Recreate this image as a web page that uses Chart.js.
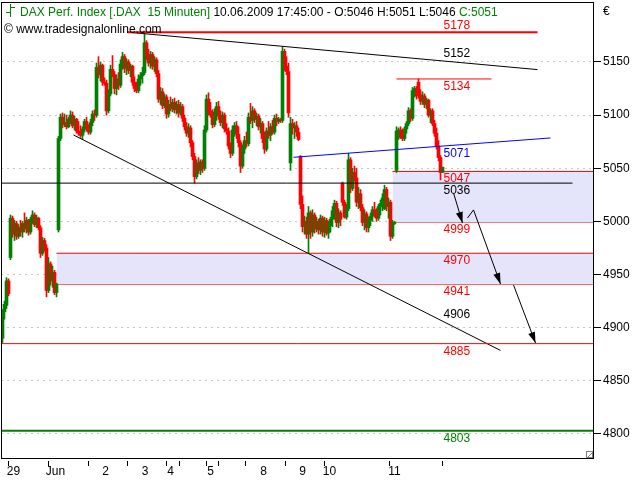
<!DOCTYPE html>
<html><head><meta charset="utf-8">
<script src="https://cdn.jsdelivr.net/npm/chart.js@4.4.1/dist/chart.umd.min.js"></script>
<style>html,body{margin:0;padding:0;background:#fff;}canvas{display:block;}</style>
</head><body>
<canvas id="c" width="640" height="480"></canvas>
<script>
// ---- 15-minute candles (bar index = time slot) ----
const open = [
4890,4915,4921,4944,4966,5003,4988,4998,4986,4994,
4990,4998,4993,5001,4990,5002,5006,4997,5003,4994,
4970,4982,4975,4935,4960,4944,4952,4933,4992,5078,
5098,5091,5093,5089,5096,5100,5090,5096,5085,5083,
5081,5087,5094,5087,5084,5093,5101,5100,5145,5138,
5147,5131,5130,5104,5120,5143,5138,5125,5134,5128,
5148,5155,5144,5150,5142,5146,5131,5125,5123,5134,
5137,5140,5168,5156,5149,5157,5146,5152,5139,5115,
5122,5109,5117,5101,5110,5106,5112,5105,5110,5102,
5108,5097,5089,5083,5088,5074,5061,5042,5055,5048,
5056,5050,5086,5115,5104,5100,5091,5103,5108,5099,
5093,5100,5087,5085,5071,5064,5086,5090,5082,5074,
5052,5068,5076,5073,5098,5095,5104,5096,5099,5089,
5092,5078,5068,5085,5081,5089,5084,5097,5094,5096,
5095,5160,5146,5141,5055,5092,5088,5090,5084,5061,
5016,4995,5000,4988,5008,4990,5006,4993,5000,4992,
5003,4990,5001,4989,4996,5002,5010,5017,4999,5008,
5036,5018,5004,5012,5058,5031,5046,5041,5018,5026,
5013,4999,5007,4994,5001,5005,5011,5008,5003,5014,
5017,5012,5030,5014,5018,4986,4998,5048,5079,5086,
5080,5078,5087,5092,5104,5097,5123,5125,5131,5119,
5113,5118,5110,5114,5100,5104,5092,5083,5071,5060,
5046];
const high = [
4917,4925,4947,4946,5006,5005,5001,5000,4997,5001,
5000,5008,5004,5002,5004,5010,5008,5006,5004,4996,
4985,4984,4978,4966,4962,4958,4954,4942,5080,5101,
5102,5101,5100,5098,5104,5103,5099,5097,5094,5090,
5089,5096,5098,5091,5096,5104,5105,5149,5155,5150,
5148,5135,5133,5124,5147,5156,5141,5138,5140,5152,
5159,5157,5153,5152,5148,5147,5136,5131,5138,5140,
5145,5178,5170,5162,5160,5159,5155,5154,5142,5126,
5125,5120,5119,5114,5117,5115,5116,5113,5114,5112,
5110,5100,5093,5092,5090,5076,5064,5058,5060,5058,
5058,5090,5119,5121,5112,5105,5106,5112,5113,5104,
5103,5102,5092,5088,5074,5090,5093,5094,5089,5076,
5072,5080,5084,5102,5111,5108,5106,5102,5101,5097,
5094,5084,5088,5094,5092,5095,5100,5101,5098,5097,
5164,5162,5155,5149,5098,5096,5093,5094,5088,5062,
5024,5005,5004,5014,5010,5011,5008,5004,5002,5006,
5005,5004,5003,5000,5004,5014,5020,5019,5012,5010,
5037,5020,5016,5064,5060,5050,5052,5050,5032,5030,
5016,5011,5009,5004,5008,5014,5018,5012,5016,5020,
5026,5034,5032,5022,5020,5001,5000,5089,5088,5089,
5087,5089,5094,5107,5106,5126,5127,5127,5134,5124,
5122,5120,5116,5115,5106,5106,5095,5088,5076,5062,
5051];
const low = [
4886,4908,4918,4930,4964,4985,4982,4983,4984,4986,
4985,4990,4989,4987,4988,4998,4995,4994,4992,4966,
4968,4972,4929,4933,4940,4938,4931,4929,4990,5076,
5088,5089,5087,5088,5092,5088,5086,5083,5081,5079,
5077,5084,5085,5082,5082,5090,5095,5098,5135,5132,
5128,5128,5100,5102,5118,5136,5120,5119,5124,5126,
5143,5140,5138,5139,5136,5128,5122,5121,5121,5128,
5130,5138,5152,5146,5144,5143,5141,5136,5112,5110,
5106,5107,5097,5098,5104,5103,5102,5101,5098,5100,
5094,5086,5080,5079,5070,5058,5036,5040,5045,5044,
5046,5048,5084,5100,5098,5088,5089,5095,5096,5090,
5088,5084,5082,5068,5060,5062,5080,5078,5070,5046,
5050,5064,5070,5071,5092,5088,5093,5090,5086,5083,
5074,5064,5066,5078,5076,5082,5082,5090,5092,5093,
5093,5142,5138,5098,5048,5082,5078,5080,5076,5012,
4990,4988,4984,4970,4984,4986,4989,4990,4988,4988,
4986,4985,4987,4984,4990,4995,5002,4995,4994,4996,
5015,5003,5002,5010,5027,5029,5038,5014,5012,5010,
4996,4992,4990,4990,4996,5000,5004,5000,5001,5006,
5010,5011,5010,5003,4982,4984,4997,5046,5077,5078,
5076,5076,5083,5090,5094,5095,5117,5115,5116,5110,
5110,5107,5106,5098,5093,5090,5080,5068,5057,5039,
5046];
const close = [
4915,4922,4944,4932,5003,4988,4998,4986,4994,4990,
4998,4993,5001,4990,5002,5006,4997,5003,4994,4970,
4982,4975,4935,4960,4944,4952,4933,4941,5078,5098,
5091,5093,5089,5096,5100,5090,5096,5085,5083,5081,
5087,5094,5087,5084,5093,5101,5100,5145,5138,5147,
5131,5130,5104,5120,5143,5138,5125,5134,5128,5148,
5155,5144,5150,5142,5146,5131,5125,5123,5134,5137,
5140,5168,5156,5149,5157,5146,5152,5139,5115,5122,
5109,5117,5101,5110,5106,5112,5105,5110,5102,5108,
5097,5089,5083,5088,5074,5061,5042,5055,5048,5056,
5050,5086,5115,5104,5100,5091,5103,5108,5099,5093,
5100,5087,5085,5071,5064,5086,5090,5082,5074,5052,
5068,5076,5073,5098,5095,5104,5096,5099,5089,5092,
5078,5068,5085,5081,5089,5084,5097,5094,5096,5095,
5160,5146,5141,5102,5092,5088,5090,5084,5077,5016,
4995,5000,4988,5008,4990,5006,4993,5000,4992,5003,
4990,5001,4989,4996,5002,5010,5017,4999,5008,5002,
5018,5004,5012,5058,5031,5046,5041,5018,5026,5013,
4999,5007,4994,5001,5005,5011,5008,5003,5014,5017,
5022,5030,5014,5018,4986,4998,4999,5085,5086,5080,
5078,5087,5092,5104,5097,5123,5125,5118,5119,5113,
5118,5110,5114,5100,5104,5092,5083,5071,5060,5046,
5051];

// ---- axis ticks (in bar-index units) ----
const dayTickPos = [2.9, 22.6, 42.6, 62.25, 81.75, 88.1, 101.75, 107.6, 121.4, 141.1, 160.6, 193.25, 219.6];
const dayLabelPos = [5.5, 26.5, 51.5, 71.25, 84.0, 104.0, 130.5, 150.0, 163.5, 196.0];
const dayLabels = ['29', 'Jun', '2', '3', '4', '5', '8', '9', '10', '11'];
const yTicks = [4800, 4850, 4900, 4950, 5000, 5050, 5100, 5150];

// ---- drawn analysis lines: [barIndex, price] ----
const resistance5178 = [[62.5, 5178], [267.5, 5178]];
const upperTrend = [[62.5, 5178], [267.5, 5142.8]];
const level5134 = [[197, 5134], [244.5, 5134]];
const blueTrend = [[145.5, 5060.3], [274, 5078.5]];
const level5036 = [[-1, 5036], [285, 5036]];
const level4885 = [[-1, 4885], [300, 4885]];
const level4803 = [[-1, 4803], [300, 4803]];
const lowerTrend = [[35.5, 5081.3], [249, 4878.6]];
const gapBoxUpperX = [195, 300];
const gapBoxUpperY = [5047, 4999];
const gapBoxLowerX = [27, 300];
const gapBoxLowerY = [4970, 4941];
const arrows = [
  [[225.5, 5026.8], [230, 4998.5]],
  [[232.5, 5003.2], [235.5, 5010.8], [249, 4941.1]],
  [[255.5, 4940.2], [266.5, 4885.6]]
];

// ---- level labels ----
const levelValues = [5178, 5152, 5134, 5071, 5047, 5036, 4999, 4970, 4941, 4906, 4885, 4803];
const levelColors = ['#ff0000', '#000000', '#ff0000', '#0000ff', '#ff0000', '#000000', '#ff0000', '#ff0000', '#ff0000', '#000000', '#ff0000', '#008000'];
const levelSide = ['above', 'above', 'below', 'below', 'below', 'below', 'below', 'below', 'below', 'above', 'below', 'below'];
const levelLabelX = 220.5;

const FONT = '"Liberation Sans", Arial, sans-serif';
const UP = '#008000', DOWN = '#ff0000', RED = '#ff0000', LAV = 'rgb(228,228,250)';

const idx = close.map((_, i) => i);
const candleColors = idx.map(i => close[i] >= open[i] ? UP : DOWN);
const pts = a => a.map(p => ({x: p[0], y: p[1]}));
function lineDs(points, color, width, extra) {
  return Object.assign({type: 'line', data: pts(points), borderColor: color, borderWidth: width,
    pointRadius: 0, fill: false, tension: 0, order: 0}, extra || {});
}

const datasets = [
  lineDs([[gapBoxUpperX[0], gapBoxUpperY[0]], [gapBoxUpperX[1], gapBoxUpperY[0]]], RED, 1, {fill: '+1', backgroundColor: LAV, order: 3}),
  lineDs([[gapBoxUpperX[0], gapBoxUpperY[1]], [gapBoxUpperX[1], gapBoxUpperY[1]]], RED, 1, {order: 3}),
  lineDs([[gapBoxLowerX[0], gapBoxLowerY[0]], [gapBoxLowerX[1], gapBoxLowerY[0]]], RED, 1, {fill: '+1', backgroundColor: LAV, order: 3}),
  lineDs([[gapBoxLowerX[0], gapBoxLowerY[1]], [gapBoxLowerX[1], gapBoxLowerY[1]]], RED, 1, {order: 3}),
  {type: 'bar', data: idx.map(i => ({x: i, y: [low[i], high[i]]})), backgroundColor: candleColors,
   barThickness: 1, grouped: false, order: 1, borderWidth: 0},
  {type: 'bar', data: idx.map(i => ({x: i, y: [open[i], close[i]]})), backgroundColor: candleColors,
   barThickness: 3, grouped: false, order: 1, borderWidth: 0, minBarLength: 1},
  lineDs(resistance5178, RED, 2),
  lineDs(upperTrend, '#000', 1),
  lineDs(level5134, RED, 1),
  lineDs(blueTrend, '#0000ff', 1),
  lineDs(level5036, '#000', 1),
  lineDs(level4885, RED, 1),
  lineDs(level4803, '#008000', 2),
  lineDs(lowerTrend, '#000', 1),
  ...arrows.map(a => lineDs(a, '#000', 1))
];

const overlay = {
  id: 'overlay',
  afterDatasetsDraw(chart) {
    const {ctx, scales: {x, y}} = chart;
    ctx.save();
    ctx.fillStyle = '#000';
    arrows.forEach(a => {
      const p1 = a[a.length - 2], p2 = a[a.length - 1];
      const x1 = x.getPixelForValue(p1[0]), y1 = y.getPixelForValue(p1[1]);
      const x2 = x.getPixelForValue(p2[0]), y2 = y.getPixelForValue(p2[1]);
      const ang = Math.atan2(y2 - y1, x2 - x1), L = 11, W = 3.5;
      const bx = x2 - L * Math.cos(ang), by = y2 - L * Math.sin(ang);
      ctx.beginPath();
      ctx.moveTo(x2, y2);
      ctx.lineTo(bx + W * Math.sin(ang), by - W * Math.cos(ang));
      ctx.lineTo(bx - W * Math.sin(ang), by + W * Math.cos(ang));
      ctx.closePath();
      ctx.fill();
    });
    ctx.font = '12px ' + FONT;
    ctx.textAlign = 'left';
    ctx.textBaseline = 'alphabetic';
    levelValues.forEach((v, i) => {
      ctx.fillStyle = levelColors[i];
      const py = y.getPixelForValue(v) + (levelSide[i] === 'above' ? -3 : 11);
      ctx.fillText(String(v), x.getPixelForValue(levelLabelX), py);
    });
    ctx.restore();
  },
  afterDraw(chart) {
    const {ctx, scales: {x}, chartArea: ca} = chart;
    ctx.save();
    ctx.strokeStyle = '#000';
    ctx.lineWidth = 1;
    ctx.strokeRect(ca.left + 0.5, ca.top + 0.5, ca.right - ca.left - 1, ca.bottom - ca.top);
    ctx.beginPath();
    dayTickPos.forEach(v => {
      const px = Math.round(x.getPixelForValue(v)) + 0.5;
      ctx.moveTo(px, ca.bottom + 3);
      ctx.lineTo(px, ca.bottom + 8);
    });
    ctx.stroke();
    ctx.strokeStyle = '#808080';
    ctx.strokeRect(ca.right - 7.5, ca.bottom - 6.5, 6, 6);
    ctx.beginPath(); ctx.moveTo(ca.right - 6, ca.bottom - 1); ctx.lineTo(ca.right - 2, ca.bottom - 5); ctx.stroke();
    ctx.font = '12px ' + FONT;
    ctx.textAlign = 'left';
    ctx.textBaseline = 'alphabetic';
    ctx.strokeStyle = '#008000';
    ctx.beginPath();
    ctx.moveTo(10.5, 4); ctx.lineTo(10.5, 17);
    ctx.moveTo(6, 12.5); ctx.lineTo(10.5, 12.5);
    ctx.moveTo(10.5, 7.5); ctx.lineTo(15, 7.5);
    ctx.stroke();
    const parts = [['DAX Perf. Index [.DAX  15 Minuten] ', '#008000'], ['10.06.2009 17:45:00 - O:5046 H:5051 L:5046 ', '#000'], ['C:5051', '#008000']];
    let tx = 20;
    parts.forEach(p => { ctx.fillStyle = p[1]; ctx.fillText(p[0], tx, 16); tx += ctx.measureText(p[0]).width; });
    ctx.fillStyle = '#000';
    ctx.fillText('\u00a9 www.tradesignalonline.com', 4, 33);
    ctx.fillText('\u20ac', 603, 15);
    ctx.restore();
  }
};

new Chart(document.getElementById('c'), {
  type: 'bar',
  data: {datasets},
  options: {
    responsive: false, animation: false, devicePixelRatio: 1,
    layout: {padding: {left: 1, top: 2, right: 0, bottom: 0}},
    plugins: {legend: {display: false}, tooltip: {enabled: false}, title: {display: false}},
    scales: {
      x: {
        type: 'linear', position: 'bottom', min: -0.75, max: 295.75, offset: false,
        grid: {display: false, drawTicks: false, offset: false, tickLength: 0},
        border: {display: false},
        afterBuildTicks: s => { s.ticks = dayLabelPos.map(v => ({value: v})); },
        afterFit: s => { s.height = 22; s.paddingLeft = 0; s.paddingRight = 0; },
        ticks: {autoSkip: false, maxRotation: 0, minRotation: 0, padding: 6, color: '#000',
          font: {family: FONT, size: 12}, callback: (v, i) => dayLabels[i]}
      },
      y: {
        type: 'linear', position: 'right', min: 4777.4, max: 5206.4,
        afterBuildTicks: s => { s.ticks = yTicks.map(v => ({value: v})); },
        afterFit: s => { s.width = 46; s.paddingTop = 0; s.paddingBottom = 0; },
        grid: {color: '#c8c8c8', lineWidth: 1, drawTicks: true, tickLength: 7, tickColor: '#000', tickWidth: 1, tickBorderDash: []},
        border: {display: false, dash: [2, 4]},
        ticks: {padding: 2, color: '#000', font: {family: FONT, size: 12}, callback: v => String(v)}
      }
    }
  },
  plugins: [overlay]
});
</script>
</body></html>
